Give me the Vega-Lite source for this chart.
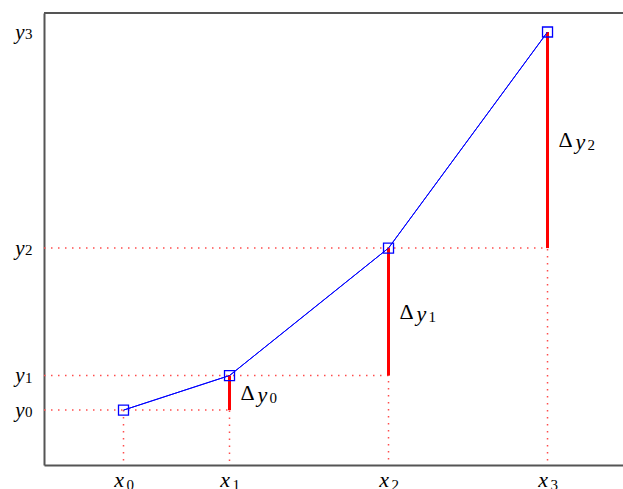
{
  "$schema": "https://vega.github.io/schema/vega-lite/v6.json",
  "autosize": {"type": "none"},
  "padding": {"left": 44, "top": 13, "right": 0, "bottom": 24},
  "width": 579,
  "height": 452,
  "config": {"view": {"stroke": null}},
  "datasets": {
    "pts": [
      {"i": 0, "x": 1, "y": 1, "yb": -0.27},
      {"i": 1, "x": 2, "y": 1.8, "yb": -0.27},
      {"i": 2, "x": 3.5, "y": 4.75, "yb": -0.27},
      {"i": 3, "x": 5, "y": 9.75, "yb": -0.27}
    ],
    "hlines": [
      {"i": 0, "y": 1, "xs": 0.25, "xe": 2},
      {"i": 1, "y": 1.8, "xs": 0.25, "xe": 3.5},
      {"i": 2, "y": 4.75, "xs": 0.25, "xe": 5}
    ],
    "steps": [
      {"i": 0, "x": 2, "y": 1, "y2": 1.8, "d": "0"},
      {"i": 1, "x": 3.5, "y": 1.8, "y2": 4.75, "d": "1"},
      {"i": 2, "x": 5, "y": 4.75, "y2": 9.75, "d": "2"}
    ],
    "tickdigits": [
      {"x": 1, "y": 1, "xs": 0.25, "yb": -0.27, "d": "0"},
      {"x": 2, "y": 1.8, "xs": 0.25, "yb": -0.27, "d": "1"},
      {"x": 3.5, "y": 4.75, "xs": 0.25, "yb": -0.27, "d": "2"},
      {"x": 5, "y": 9.75, "xs": 0.25, "yb": -0.27, "d": "3"}
    ],
    "frame": [
      {"xs": 0.25, "xe": 5.712, "y": 10.19}
    ]
  },
  "layer": [
    {
      "data": {"name": "pts"},
      "mark": {"type": "line", "color": "#0000ff", "strokeWidth": 1},
      "encoding": {
        "x": {"field": "x", "type": "quantitative", "scale": {"domain": [0.25, 5.712], "nice": false, "zero": false},
          "axis": {"values": [1, 2, 3.5, 5], "labelExpr": "'x'", "labelAlign": "right", "labelDx": 5,
            "title": null, "ticks": false, "grid": false, "domainColor": "#555555", "domainWidth": 2,
            "labelFont": "Liberation Serif", "labelFontStyle": "italic", "labelFontSize": 22, "labelColor": "#000000", "labelPadding": 4}},
        "y": {"field": "y", "type": "quantitative", "scale": {"domain": [-0.27, 10.19], "nice": false, "zero": false},
          "axis": {"values": [1, 1.8, 4.75, 9.75], "labelExpr": "'y'",
            "title": null, "ticks": false, "grid": false, "domainColor": "#555555", "domainWidth": 2,
            "labelFont": "Liberation Serif", "labelFontStyle": "italic", "labelFontSize": 21, "labelColor": "#000000", "labelPadding": 20}},
        "order": {"field": "i"}
      }
    },
    {
      "data": {"name": "hlines"},
      "mark": {"type": "rule", "color": "#ff4d4d", "strokeWidth": 1.5, "strokeDash": [1.5, 5.5]},
      "encoding": {
        "x": {"field": "xs", "type": "quantitative"},
        "x2": {"field": "xe"},
        "y": {"field": "y", "type": "quantitative"}
      }
    },
    {
      "data": {"name": "pts"},
      "mark": {"type": "rule", "color": "#ff4d4d", "strokeWidth": 1.5, "strokeDash": [1.5, 5.5]},
      "encoding": {
        "x": {"field": "x", "type": "quantitative"},
        "y": {"field": "y", "type": "quantitative"},
        "y2": {"field": "yb"}
      }
    },
    {
      "data": {"name": "steps"},
      "mark": {"type": "rule", "color": "#ff0000", "strokeWidth": 3},
      "encoding": {
        "x": {"field": "x", "type": "quantitative"},
        "y": {"field": "y", "type": "quantitative"},
        "y2": {"field": "y2"}
      }
    },
    {
      "data": {"name": "pts"},
      "mark": {"type": "line", "color": "#0000ff", "strokeWidth": 1},
      "encoding": {
        "x": {"field": "x", "type": "quantitative"},
        "y": {"field": "y", "type": "quantitative"},
        "order": {"field": "i"}
      }
    },
    {
      "data": {"name": "pts"},
      "mark": {"type": "point", "shape": "square", "size": 100, "filled": false, "color": "#0000ff", "strokeWidth": 1.3, "opacity": 1},
      "encoding": {
        "x": {"field": "x", "type": "quantitative"},
        "y": {"field": "y", "type": "quantitative"}
      }
    },
    {
      "data": {"name": "tickdigits"},
      "mark": {"type": "text", "align": "left", "baseline": "middle", "dx": -19, "dy": 2, "font": "Liberation Serif", "fontSize": 15, "color": "#000000"},
      "encoding": {
        "x": {"field": "xs", "type": "quantitative"},
        "y": {"field": "y", "type": "quantitative"},
        "text": {"field": "d"}
      }
    },
    {
      "data": {"name": "tickdigits"},
      "mark": {"type": "text", "align": "left", "baseline": "top", "dx": 3, "dy": 13, "font": "Liberation Serif", "fontSize": 15, "color": "#000000"},
      "encoding": {
        "x": {"field": "x", "type": "quantitative"},
        "y": {"field": "yb", "type": "quantitative"},
        "text": {"field": "d"}
      }
    },
    {
      "data": {"name": "steps"},
      "transform": [{"calculate": "(datum.y + datum.y2) / 2", "as": "ym"}],
      "mark": {"type": "text", "align": "left", "baseline": "middle", "dx": 11, "font": "Liberation Serif", "fontSize": 22, "color": "#000000"},
      "encoding": {
        "x": {"field": "x", "type": "quantitative"},
        "y": {"field": "ym", "type": "quantitative"},
        "text": {"value": "Δ"}
      }
    },
    {
      "data": {"name": "steps"},
      "transform": [{"calculate": "(datum.y + datum.y2) / 2", "as": "ym"}],
      "mark": {"type": "text", "align": "left", "baseline": "middle", "dx": 28, "dy": 2, "font": "Liberation Serif", "fontStyle": "italic", "fontSize": 22, "color": "#000000"},
      "encoding": {
        "x": {"field": "x", "type": "quantitative"},
        "y": {"field": "ym", "type": "quantitative"},
        "text": {"value": "y"}
      }
    },
    {
      "data": {"name": "steps"},
      "transform": [{"calculate": "(datum.y + datum.y2) / 2", "as": "ym"}],
      "mark": {"type": "text", "align": "left", "baseline": "middle", "dx": 40, "dy": 5, "font": "Liberation Serif", "fontSize": 15, "color": "#000000"},
      "encoding": {
        "x": {"field": "x", "type": "quantitative"},
        "y": {"field": "ym", "type": "quantitative"},
        "text": {"field": "d"}
      }
    },
    {
      "data": {"name": "frame"},
      "mark": {"type": "rule", "color": "#555555", "strokeWidth": 2},
      "encoding": {
        "x": {"field": "xs", "type": "quantitative"},
        "x2": {"field": "xe"},
        "y": {"field": "y", "type": "quantitative"}
      }
    }
  ]
}
